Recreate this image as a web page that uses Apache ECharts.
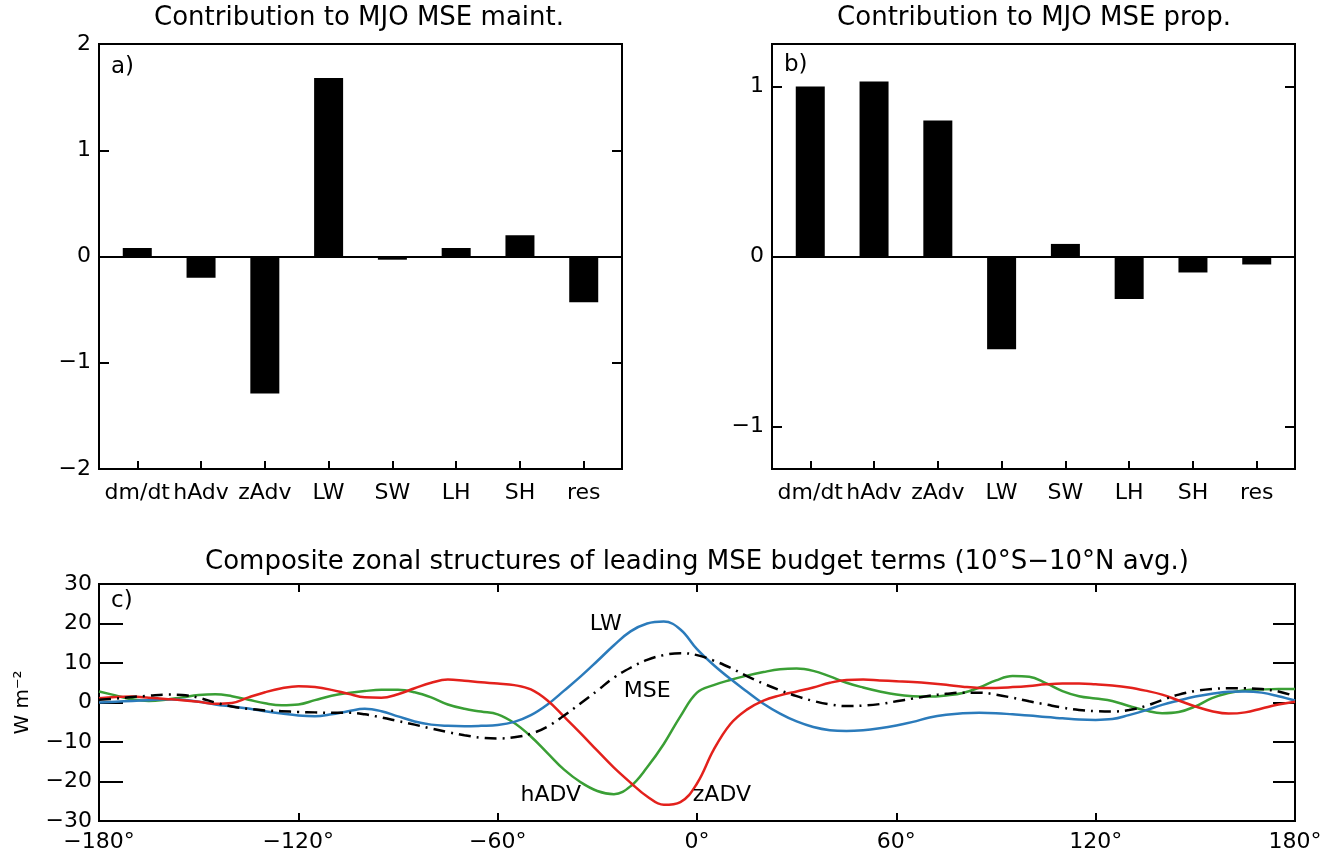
<!DOCTYPE html>
<html>
<head>
<meta charset="utf-8">
<script src="https://cdn.jsdelivr.net/npm/echarts@6/dist/echarts.min.js"></script>
<style>
  html, body { margin: 0; padding: 0; background: #fff; }
  #chart { width: 1333px; height: 857px; }
</style>
</head>
<body>
<div id="chart"></div>
<script>
// budget terms (panels a, b)
const terms = ['dm/dt', 'hAdv', 'zAdv', 'LW', 'SW', 'LH', 'SH', 'res'];
const maintVals = [0.08, -0.2, -1.29, 1.68, -0.03, 0.08, 0.2, -0.43];
const propVals = [1.0, 1.03, 0.80, -0.545, 0.074, -0.25, -0.094, -0.047];

// zonal structures (panel c), W m-2
const lons = [-180, -175, -170, -165, -160, -155, -150, -145, -140, -135, -130, -125, -120, -115, -110, -105,
  -100, -95, -90, -85, -80, -75, -70, -65, -60, -55, -50, -45, -40, -35, -30, -25, -20, -15, -10, -5,
  0, 5, 10, 15, 20, 25, 30, 35, 40, 45, 50, 55, 60, 65, 70, 75, 80, 85, 90, 95, 100, 105, 110, 115,
  120, 125, 130, 135, 140, 145, 150, 155, 160, 165, 170, 175, 180];
const lwVals = [0, 0.2, 0.4, 0.6, 0.8, 0.7, 0.2, -0.5, -1.0, -1.5, -2.2, -2.8, -3.3, -3.5, -3.0, -2.2,
  -1.6, -2.2, -3.5, -4.8, -5.6, -5.9, -6.0, -5.9, -5.7, -4.9, -3.2, -0.5, 3.0, 6.6, 10.5, 14.5, 18.0, 20.0, 20.5, 18.5,
  13.5, 9.5, 6.0, 2.8, -0.3, -2.8, -4.8, -6.2, -7.0, -7.2, -7.0, -6.5, -5.8, -4.9, -3.8, -3.1, -2.7, -2.6, -2.7, -3.0, -3.3, -3.7, -4.0, -4.3,
  -4.4, -4.2, -3.2, -2.0, -0.6, 0.5, 1.5, 2.2, 2.7, 2.8, 2.5, 1.6, 0.5];
const zadvVals = [1.1, 1.4, 1.5, 1.2, 0.9, 0.6, 0.2, -0.3, -0.1, 1.3, 2.6, 3.6, 4.1, 3.9, 3.2, 2.2,
  1.3, 1.2, 2.1, 3.6, 5.0, 5.8, 5.5, 5.1, 4.8, 4.4, 3.3, 0.5, -3.6, -7.8, -12.2, -16.5, -20.3, -23.8, -25.9, -25.2,
  -20.5, -12.0, -5.5, -1.8, 0.5, 1.8, 2.8, 3.8, 5.0, 5.7, 5.8, 5.6, 5.4, 5.2, 4.9, 4.5, 4.0, 3.7, 3.7, 3.9, 4.2, 4.6, 4.8, 4.8,
  4.6, 4.3, 3.8, 3.0, 2.0, 0.5, -1.0, -2.2, -2.8, -2.5, -1.5, -0.5, 0.2];
const hadvVals = [2.8, 1.8, 0.8, 0.4, 0.7, 1.3, 1.9, 2.1, 1.6, 0.7, -0.2, -0.7, -0.5, 0.6, 1.7, 2.4,
  2.9, 3.2, 3.2, 2.6, 1.3, -0.5, -1.6, -2.3, -3.0, -5.2, -8.6, -12.8, -17.0, -20.2, -22.4, -23.2, -21.2, -16.4, -10.5, -3.5,
  2.5, 4.4, 5.7, 6.8, 7.7, 8.4, 8.6, 8.0, 6.6, 5.0, 3.8, 2.8, 2.0, 1.6, 1.5, 1.8, 2.4, 3.8, 5.6, 6.7, 6.5, 4.9, 2.9, 1.6,
  1.0, 0.4, -0.9, -2.0, -2.7, -2.4, -1.0, 1.1, 2.4, 3.1, 3.3, 3.4, 3.4];
const mseVals = [0.7, 1.0, 1.4, 1.7, 2.0, 1.9, 1.2, 0.0, -1.0, -1.6, -2.0, -2.2, -2.4, -2.5, -2.6, -2.6,
  -3.0, -3.8, -4.7, -5.6, -6.6, -7.5, -8.3, -8.9, -9.1, -8.8, -7.9, -6.1, -3.3, -0.2, 3.0, 6.3, 8.8, 10.8, 12.0, 12.5,
  12.0, 10.6, 8.8, 6.7, 4.8, 3.1, 1.6, 0.4, -0.5, -0.9, -0.8, -0.4, 0.3, 1.0, 1.7, 2.2, 2.5, 2.5, 2.0, 1.2, 0.3, -0.5, -1.3, -1.9,
  -2.2, -2.3, -1.9, -0.9, 0.6, 2.0, 2.9, 3.4, 3.6, 3.6, 3.4, 2.8, 1.6];

const FONT = 'DejaVu Sans';
const minus = s => String(s).replace('-', '\u2212');
const termIdx = terms.map((t, i) => i);
const axisLine = { show: true, onZero: false, lineStyle: { color: '#000', width: 2 } };

const chart = echarts.init(document.getElementById('chart'));

function barX(grid) {
  return {
    type: 'value', gridIndex: grid, min: -0.6, max: 7.6,
    axisLine: axisLine,
    axisTick: { show: true, inside: true, length: 8, customValues: termIdx, lineStyle: { color: '#000', width: 2 } },
    axisLabel: { customValues: termIdx, formatter: v => terms[Math.round(v)], color: '#000', fontFamily: FONT, fontSize: 22, margin: 13 },
    splitLine: { show: false }
  };
}
function yTicks(grid, min, max, vals, right) {
  return {
    type: 'value', gridIndex: grid, min: min, max: max, position: right ? 'right' : 'left',
    axisLine: axisLine,
    axisTick: { show: true, inside: true, length: 10, customValues: vals, lineStyle: { color: '#000', width: 2 } },
    axisLabel: { show: !right, customValues: vals, formatter: minus, color: '#000', fontFamily: FONT, fontSize: 22, margin: 8 },
    splitLine: { show: false }
  };
}
const zeroLine = {
  silent: true, symbol: 'none', label: { show: false },
  lineStyle: { color: '#000', width: 2, type: 'solid' },
  data: [{ yAxis: 0 }]
};
function annot(text, lon, val) {
  return {
    symbol: 'circle', symbolSize: 2,
    itemStyle: { color: 'rgba(0,0,0,0)' },
    label: { show: true, position: 'inside', formatter: text, color: '#000', fontFamily: FONT, fontSize: 22 },
    data: [{ name: text, coord: [lon, val] }]
  };
}
function curve(name, vals, color, dash, mp) {
  return {
    type: 'line', name: name, xAxisIndex: 2, yAxisIndex: 4,
    data: lons.map((x, i) => [x, vals[i]]),
    smooth: 0.4, showSymbol: false, symbol: 'none',
    lineStyle: { color: color, width: 2.5, type: dash || 'solid' },
    markPoint: mp
  };
}

chart.setOption({
  animation: false,
  backgroundColor: '#fff',
  grid: [
    { left: 99, top: 44, width: 523, height: 425, show: true, borderColor: '#000', borderWidth: 2 },
    { left: 772, top: 44, width: 523, height: 425, show: true, borderColor: '#000', borderWidth: 2 },
    { left: 99, top: 584, width: 1196, height: 237, show: true, borderColor: '#000', borderWidth: 2 }
  ],
  xAxis: [
    barX(0),
    barX(1),
    {
      type: 'value', gridIndex: 2, min: -180, max: 180, interval: 60,
      axisLine: axisLine,
      axisTick: { inside: true, length: 8, lineStyle: { color: '#000', width: 2 } },
      axisLabel: { formatter: v => minus(v) + '\u00b0', color: '#000', fontFamily: FONT, fontSize: 22, margin: 10 },
      splitLine: { show: false }
    },
    {
      type: 'value', gridIndex: 2, min: -180, max: 180, interval: 60, position: 'top',
      axisLine: axisLine,
      axisTick: { inside: true, length: 8, lineStyle: { color: '#000', width: 2 } },
      axisLabel: { show: false },
      splitLine: { show: false }
    }
  ],
  yAxis: [
    yTicks(0, -2, 2, [-2, -1, 0, 1, 2], false),
    yTicks(0, -2, 2, [-1, 0, 1], true),
    yTicks(1, -1.25, 1.25, [-1, 0, 1], false),
    yTicks(1, -1.25, 1.25, [-1, 0, 1], true),
    {
      type: 'value', gridIndex: 2, min: -30, max: 30, interval: 10,
      name: 'W m\u207b\u00b2', nameLocation: 'middle', nameGap: 66, nameRotate: 90,
      nameTextStyle: { color: '#000', fontFamily: FONT, fontSize: 20 },
      axisLine: axisLine,
      axisTick: { inside: true, length: 24, lineStyle: { color: '#000', width: 2 } },
      axisLabel: { formatter: minus, color: '#000', fontFamily: FONT, fontSize: 22, margin: 7 },
      splitLine: { show: false }
    },
    {
      type: 'value', gridIndex: 2, min: -30, max: 30, interval: 10, position: 'right',
      axisLine: axisLine,
      axisTick: { inside: true, length: 22, lineStyle: { color: '#000', width: 2 } },
      axisLabel: { show: false },
      splitLine: { show: false }
    }
  ],
  series: [
    {
      type: 'bar', xAxisIndex: 0, yAxisIndex: 0, barWidth: 29,
      data: maintVals.map((v, i) => [i, v]),
      itemStyle: { color: '#000' },
      markLine: zeroLine
    },
    {
      type: 'bar', xAxisIndex: 1, yAxisIndex: 2, barWidth: 29,
      data: propVals.map((v, i) => [i, v]),
      itemStyle: { color: '#000' },
      markLine: zeroLine
    },
    curve('hADV', hadvVals, '#3a9f35', null, annot('hADV', -44, -23.5)),
    curve('LW', lwVals, '#2b7bbb', null, annot('LW', -27.5, 19.8)),
    curve('zADV', zadvVals, '#e3211c', null, annot('zADV', 7.5, -23.6)),
    curve('MSE', mseVals, '#000', [12, 6, 2, 6], annot('MSE', -15, 2.8))
  ],
  graphic: [
    { type: 'text', x: 359, y: 5, style: { text: 'Contribution to MJO MSE maint.', font: '26px "DejaVu Sans"', fill: '#000', textAlign: 'center' } },
    { type: 'text', x: 1034, y: 5, style: { text: 'Contribution to MJO MSE prop.', font: '26px "DejaVu Sans"', fill: '#000', textAlign: 'center' } },
    { type: 'text', x: 697, y: 549, style: { text: 'Composite zonal structures of leading MSE budget terms (10\u00b0S\u221210\u00b0N avg.)', font: '26px "DejaVu Sans"', fill: '#000', textAlign: 'center' } },
    { type: 'text', x: 111, y: 56, style: { text: 'a)', font: '23px "DejaVu Sans"', fill: '#000' } },
    { type: 'text', x: 784, y: 54, style: { text: 'b)', font: '23px "DejaVu Sans"', fill: '#000' } },
    { type: 'text', x: 111, y: 590, style: { text: 'c)', font: '23px "DejaVu Sans"', fill: '#000' } }
  ]
});
</script>
</body>
</html>
